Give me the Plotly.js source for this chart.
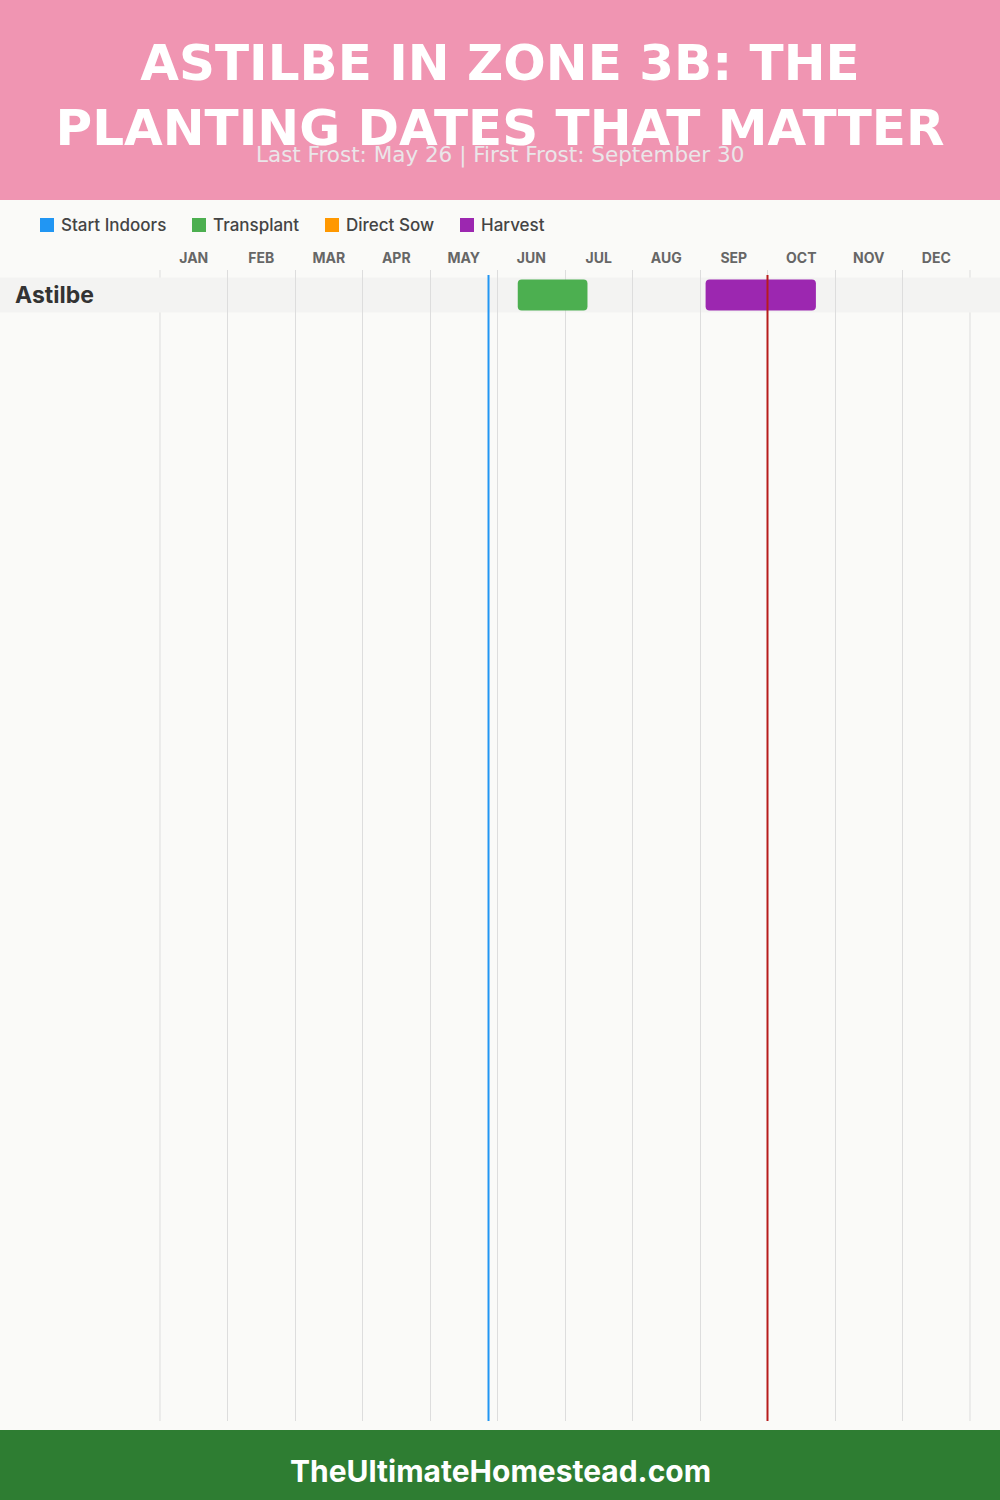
<!DOCTYPE html>
<html>
<head>
<meta charset="utf-8">
<script src="https://cdn.plot.ly/plotly-3.0.1.min.js"></script>
<style>html,body{margin:0;padding:0;background:#FAFAF8;}#chart{width:1000px;height:1500px;}</style>
</head>
<body>
<div id="chart"></div>
<script>
// ---- data ----
const months = ['JAN','FEB','MAR','APR','MAY','JUN','JUL','AUG','SEP','OCT','NOV','DEC'];
const categories = ['Start Indoors','Transplant','Direct Sow','Harvest'];
const categoryColors = ['#2196F3','#4CAF50','#FF9800','#9C27B0'];
const crops = ['Astilbe'];
// positions in months from Jan 1 (month index + day/30)
const transplantStart = [5.30];
const transplantEnd   = [6.333];
const harvestStart    = [8.083];
const harvestEnd      = [9.717];
const lastFrost = 4.867;   // May 26
const firstFrost = 9.0;    // Sep 30
const titleText = 'ASTILBE IN ZONE 3B: THE<br>PLANTING DATES THAT MATTER';
const subtitleText = 'Last Frost: May 26 | First Frost: September 30';
const footerText = 'TheUltimateHomestead.com';

// ---- page geometry helpers ----
const W = 1000, H = 1500;
const L = 159, R = 29, T = 270, B = 79;
const pw = W - L - R, ph = H - T - B;
const px = x => (x - L) / pw;
const py = y => (H - B - y) / ph;
const pad = 1 / 67.5;

const traces = [];
crops.forEach((c, i) => {
  traces.push({
    type: 'bar', orientation: 'h', y: [i], base: [transplantStart[i]],
    x: [transplantEnd[i] - transplantStart[i]], width: 0.88,
    marker: {color: categoryColors[1], cornerradius: 4}, showlegend: false, hoverinfo: 'skip'
  });
  traces.push({
    type: 'bar', orientation: 'h', y: [i], base: [harvestStart[i]],
    x: [harvestEnd[i] - harvestStart[i]], width: 0.88,
    marker: {color: categoryColors[3], cornerradius: 4}, showlegend: false, hoverinfo: 'skip'
  });
});

const shapes = [
  {type:'rect', xref:'paper', yref:'paper', x0:px(0), x1:px(W), y0:py(0), y1:py(200), fillcolor:'#F095B2', line:{width:0}, layer:'below'},
  {type:'rect', xref:'paper', yref:'paper', x0:px(0), x1:px(W), y0:py(1430), y1:py(H), fillcolor:'#2E7D32', line:{width:0}, layer:'below'},
  // edge gridlines (start of Jan, end of Dec)
  {type:'line', xref:'x', yref:'paper', x0:0, x1:0, y0:0, y1:1, line:{color:'#DDDDDD', width:1}, layer:'below'},
  {type:'line', xref:'x', yref:'paper', x0:months.length, x1:months.length, y0:0, y1:1, line:{color:'#DDDDDD', width:1}, layer:'below'},
  {type:'line', xref:'x', yref:'paper', x0:lastFrost, x1:lastFrost, y0:0, y1:py(275), line:{color:'#2196F3', width:2}, layer:'above'},
  {type:'line', xref:'x', yref:'paper', x0:firstFrost, x1:firstFrost, y0:0, y1:py(275), line:{color:'#B71C1C', width:2}, layer:'above'}
];
crops.forEach((c, i) => {
  shapes.push({type:'rect', xref:'paper', yref:'y', x0:px(0), x1:px(W), y0:i-0.5, y1:i+0.5, fillcolor:'#F3F3F2', line:{width:0}, layer:'between'});
});

const annotations = [
  {text: subtitleText, xref:'paper', yref:'paper', x:px(500), y:py(155), xanchor:'center', yanchor:'middle', showarrow:false,
   font:{family:'DejaVu Sans, sans-serif', size:21.5, color:'#EAE6E9'}},
  {text: footerText, xref:'paper', yref:'paper', x:px(500), y:py(1471), xanchor:'center', yanchor:'middle', showarrow:false,
   font:{family:'Inter, sans-serif', size:30, color:'#FFFFFF', weight:700}}
];
const legendX = [40, 192, 325, 460];
categories.forEach((c, i) => {
  shapes.push({type:'rect', xref:'paper', yref:'paper', x0:px(legendX[i]), x1:px(legendX[i]+14), y0:py(232), y1:py(218), fillcolor:categoryColors[i], line:{width:0}});
  annotations.push({text:c, xref:'paper', yref:'paper', x:px(legendX[i]+19), y:py(225), xanchor:'left', yanchor:'middle', showarrow:false,
    font:{family:'Inter, sans-serif', size:17, color:'#444444', weight:500}});
});
crops.forEach((c, i) => {
  annotations.push({text:c, xref:'paper', yref:'y', x:px(13), y:i, xanchor:'left', yanchor:'middle', showarrow:false,
    font:{family:'Inter, sans-serif', size:23, color:'#333333', weight:700}});
});

const layout = {
  width: W, height: H,
  margin: {l:L, r:R, t:T, b:B, pad:0},
  paper_bgcolor: '#FAFAF8', plot_bgcolor: '#FAFAF8',
  title: {text: titleText, x:0.5, xanchor:'center', xref:'container', yref:'container', y: 1 - 80/H, yanchor:'middle',
    font:{family:'DejaVu Sans, sans-serif', size:50, color:'#FFFFFF', weight:700}},
  showlegend: false,
  barmode: 'overlay',
  xaxis: {range:[-pad, 12 + pad], side:'top', tickmode:'array', tickvals: months.map((m,i)=>i+0.5), ticktext: months,
    ticks:'', showgrid:false, zeroline:false, showline:false, fixedrange:true,
    tickfont:{family:'Inter, sans-serif', size:14, color:'#666666', weight:700}, ticklabelstandoff:3,
    minor:{tickmode:'array', tickvals: months.map((m,i)=>i).concat([12]), showgrid:true, gridcolor:'#DDDDDD', gridwidth:1, ticks:''}},
  yaxis: {range:[ (H-B-295)/35 , -(295-T)/35 ], showticklabels:false, showgrid:false, zeroline:false, showline:false, ticks:'', fixedrange:true},
  shapes: shapes,
  annotations: annotations
};

Plotly.newPlot('chart', traces, layout, {staticPlot:true, displayModeBar:false});
</script>
</body>
</html>
